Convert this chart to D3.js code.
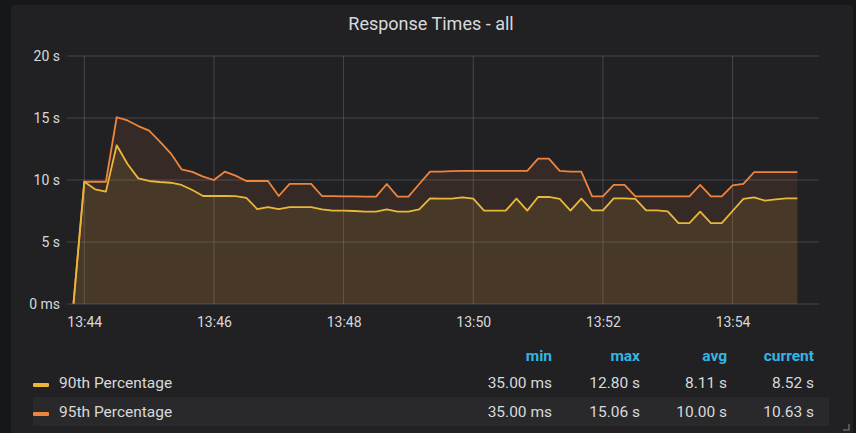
<!DOCTYPE html>
<html>
<head>
<meta charset="utf-8">
<script src="https://cdn.jsdelivr.net/npm/d3@7"></script>
<style>
  html, body { margin: 0; padding: 0; background: #161719; }
  body { width: 856px; height: 433px; overflow: hidden; font-family: Roboto, "Noto Sans", sans-serif; }
  svg { display: block; }
</style>
</head>
<body>
<div id="chart-area"></div>
<script>
const W = 856;
const H = 433;

// sample times (10 s step)
const times = [
    "13:43:50", "13:44:00", "13:44:10", "13:44:20", "13:44:30", "13:44:40", "13:44:50",
    "13:45:00", "13:45:10", "13:45:20", "13:45:30", "13:45:40", "13:45:50",
    "13:46:00", "13:46:10", "13:46:20", "13:46:30", "13:46:40", "13:46:50",
    "13:47:00", "13:47:10", "13:47:20", "13:47:30", "13:47:40", "13:47:50",
    "13:48:00", "13:48:10", "13:48:20", "13:48:30", "13:48:40", "13:48:50",
    "13:49:00", "13:49:10", "13:49:20", "13:49:30", "13:49:40", "13:49:50",
    "13:50:00", "13:50:10", "13:50:20", "13:50:30", "13:50:40", "13:50:50",
    "13:51:00", "13:51:10", "13:51:20", "13:51:30", "13:51:40", "13:51:50",
    "13:52:00", "13:52:10", "13:52:20", "13:52:30", "13:52:40", "13:52:50",
    "13:53:00", "13:53:10", "13:53:20", "13:53:30", "13:53:40", "13:53:50",
    "13:54:00", "13:54:10", "13:54:20", "13:54:30", "13:54:40", "13:54:50",
    "13:55:00",
];

// seconds
const p90 = [
    0.035, 9.86, 9.25, 9.06, 12.8, 11.29, 10.13, 9.92, 9.84, 9.78, 9.6, 9.19, 8.71,
    8.71, 8.71, 8.7, 8.55, 7.66, 7.82, 7.66, 7.82, 7.82, 7.82, 7.63, 7.53,
    7.53, 7.5, 7.45, 7.45, 7.63, 7.45, 7.45, 7.63, 8.52, 8.5, 8.5, 8.6,
    8.5, 7.53, 7.53, 7.53, 8.5, 7.53, 8.63, 8.63, 8.47, 7.53, 8.5, 7.55,
    7.55, 8.52, 8.52, 8.47, 7.55, 7.55, 7.47, 6.53, 6.53, 7.45, 6.53, 6.53,
    7.5, 8.47, 8.6, 8.33, 8.44, 8.52, 8.52,
];

const p95 = [
    0.035, 9.86, 9.86, 9.86, 15.06, 14.8, 14.35, 13.98, 13.1, 12.15, 10.86, 10.65, 10.27,
    10.0, 10.67, 10.35, 9.92, 9.92, 9.92, 8.71, 9.68, 9.68, 9.68, 8.71, 8.7,
    8.68, 8.68, 8.66, 8.66, 9.68, 8.66, 8.66, 9.68, 10.67, 10.67, 10.72, 10.73,
    10.73, 10.73, 10.73, 10.73, 10.73, 10.73, 11.72, 11.72, 10.73, 10.68, 10.68, 8.68,
    8.68, 9.6, 9.6, 8.68, 8.68, 8.68, 8.68, 8.68, 8.68, 9.6, 8.68, 8.68,
    9.57, 9.68, 10.63, 10.63, 10.63, 10.63, 10.63,
];

const yTicks = [0, 5, 10, 15, 20];
const yTickLabels = ["0 ms", "5 s", "10 s", "15 s", "20 s"];

const seriesNames = ["90th Percentage", "95th Percentage"];
const seriesColors = ["#EAB839", "#EF843C"];
const statHeaders = ["min", "max", "avg", "current"];
const statMin = ["35.00 ms", "35.00 ms"];
const statMax = ["12.80 s", "15.06 s"];
const statAvg = ["8.11 s", "10.00 s"];
const statCurrent = ["8.52 s", "10.63 s"];

const parseTime = d3.timeParse("%H:%M:%S");

const svg = d3
    .select("#chart-area")
    .append("svg")
    .attr("width", W)
    .attr("height", H);

// panel
svg.append("rect")
    .attr("x", 11)
    .attr("y", 5)
    .attr("width", 842)
    .attr("height", 440)
    .attr("rx", 3)
    .attr("fill", "#212124");

svg.append("text")
    .text("Response Times - all")
    .attr("x", 431)
    .attr("y", 30)
    .attr("text-anchor", "middle")
    .attr("font-size", "18px")
    .attr("font-weight", 400)
    .attr("fill", "#d8d9da");

//Scales
const xScale = d3
    .scaleTime()
    .domain([parseTime("13:43:44"), parseTime("13:55:20")])
    .range([67, 819]);
const yScale = d3.scaleLinear().domain([0, 20]).range([304, 56]);

//Grid
const xTickValues = ["13:44:00", "13:46:00", "13:48:00", "13:50:00", "13:52:00", "13:54:00"].map(parseTime);

const grid = svg.append("g");
grid.selectAll(".vgrid")
    .data(xTickValues)
    .enter()
    .append("line")
    .attr("x1", (d) => xScale(d))
    .attr("x2", (d) => xScale(d))
    .attr("y1", yScale(20))
    .attr("y2", yScale(0))
    .attr("stroke", "rgba(140,140,150,0.35)")
    .attr("stroke-width", 1);
grid.selectAll(".hgrid")
    .data(yTicks)
    .enter()
    .append("line")
    .attr("x1", 67)
    .attr("x2", 819)
    .attr("y1", (d) => yScale(d))
    .attr("y2", (d) => yScale(d))
    .attr("stroke", "rgba(140,140,150,0.35)")
    .attr("stroke-width", 1);

//Axes
const yAxisCall = d3
    .axisLeft(yScale)
    .tickValues(yTicks)
    .tickSize(0)
    .tickPadding(7)
    .tickFormat((d, i) => yTickLabels[i]);
const xAxisCall = d3
    .axisBottom(xScale)
    .tickValues(xTickValues)
    .tickSize(0)
    .tickPadding(13)
    .tickFormat(d3.timeFormat("%H:%M"));

const yAxis = svg.append("g").attr("transform", "translate(67, 0)").call(yAxisCall);
const xAxis = svg.append("g").attr("transform", `translate(0, ${yScale(0)})`).call(xAxisCall);
[xAxis, yAxis].forEach((ax) => {
    ax.select(".domain").remove();
    ax.selectAll("text")
        .attr("fill", "#d8d9da")
        .attr("font-size", "14px")
        .attr("font-family", "Roboto, sans-serif");
});

// series
const series = [p95, p90];
const colors = [seriesColors[1], seriesColors[0]];
const area = d3
    .area()
    .x((d, i) => xScale(parseTime(times[i])))
    .y0(yScale(0))
    .y1((d) => yScale(d));
const line = d3
    .line()
    .x((d, i) => xScale(parseTime(times[i])))
    .y((d) => yScale(d));

series.forEach((values, k) => {
    svg.append("path")
        .datum(values)
        .attr("d", area)
        .attr("fill", colors[k])
        .attr("fill-opacity", 0.1);
});
series.forEach((values, k) => {
    svg.append("path")
        .datum(values)
        .attr("d", line)
        .attr("fill", "none")
        .attr("stroke", colors[k])
        .attr("stroke-width", 1.8)
        .attr("stroke-linejoin", "round");
});

// Legend
const colX = [552, 640, 727, 814];
const legend = svg.append("g");
statHeaders.forEach((h, i) => {
    legend.append("text")
        .text(h)
        .attr("x", colX[i])
        .attr("y", 361)
        .attr("text-anchor", "end")
        .attr("font-size", "15.5px")
        .attr("font-weight", 700)
        .attr("fill", "#33b5e5");
});

legend.append("rect")
    .attr("x", 33)
    .attr("y", 397)
    .attr("width", 796)
    .attr("height", 29)
    .attr("fill", "#29292c");

seriesNames.forEach((name, i) => {
    const rowY = 388 + i * 29;
    const row = legend.append("g");
    row.append("rect")
        .attr("x", 33)
        .attr("y", rowY - 5)
        .attr("width", 16)
        .attr("height", 4)
        .attr("rx", 1)
        .attr("fill", seriesColors[i]);
    row.append("text")
        .text(name)
        .attr("x", 59)
        .attr("y", rowY)
        .attr("font-size", "15.5px")
        .attr("fill", "#d8d9da");
    [statMin[i], statMax[i], statAvg[i], statCurrent[i]].forEach((v, j) => {
        row.append("text")
            .text(v)
            .attr("x", colX[j])
            .attr("y", rowY)
            .attr("text-anchor", "end")
            .attr("font-size", "15.5px")
            .attr("fill", "#d8d9da");
    });
});

// resize handle
svg.append("path")
    .attr("d", "M843,430 L849,430 L849,424")
    .attr("fill", "none")
    .attr("stroke", "#666")
    .attr("stroke-width", 1.5);
</script>
</body>
</html>
